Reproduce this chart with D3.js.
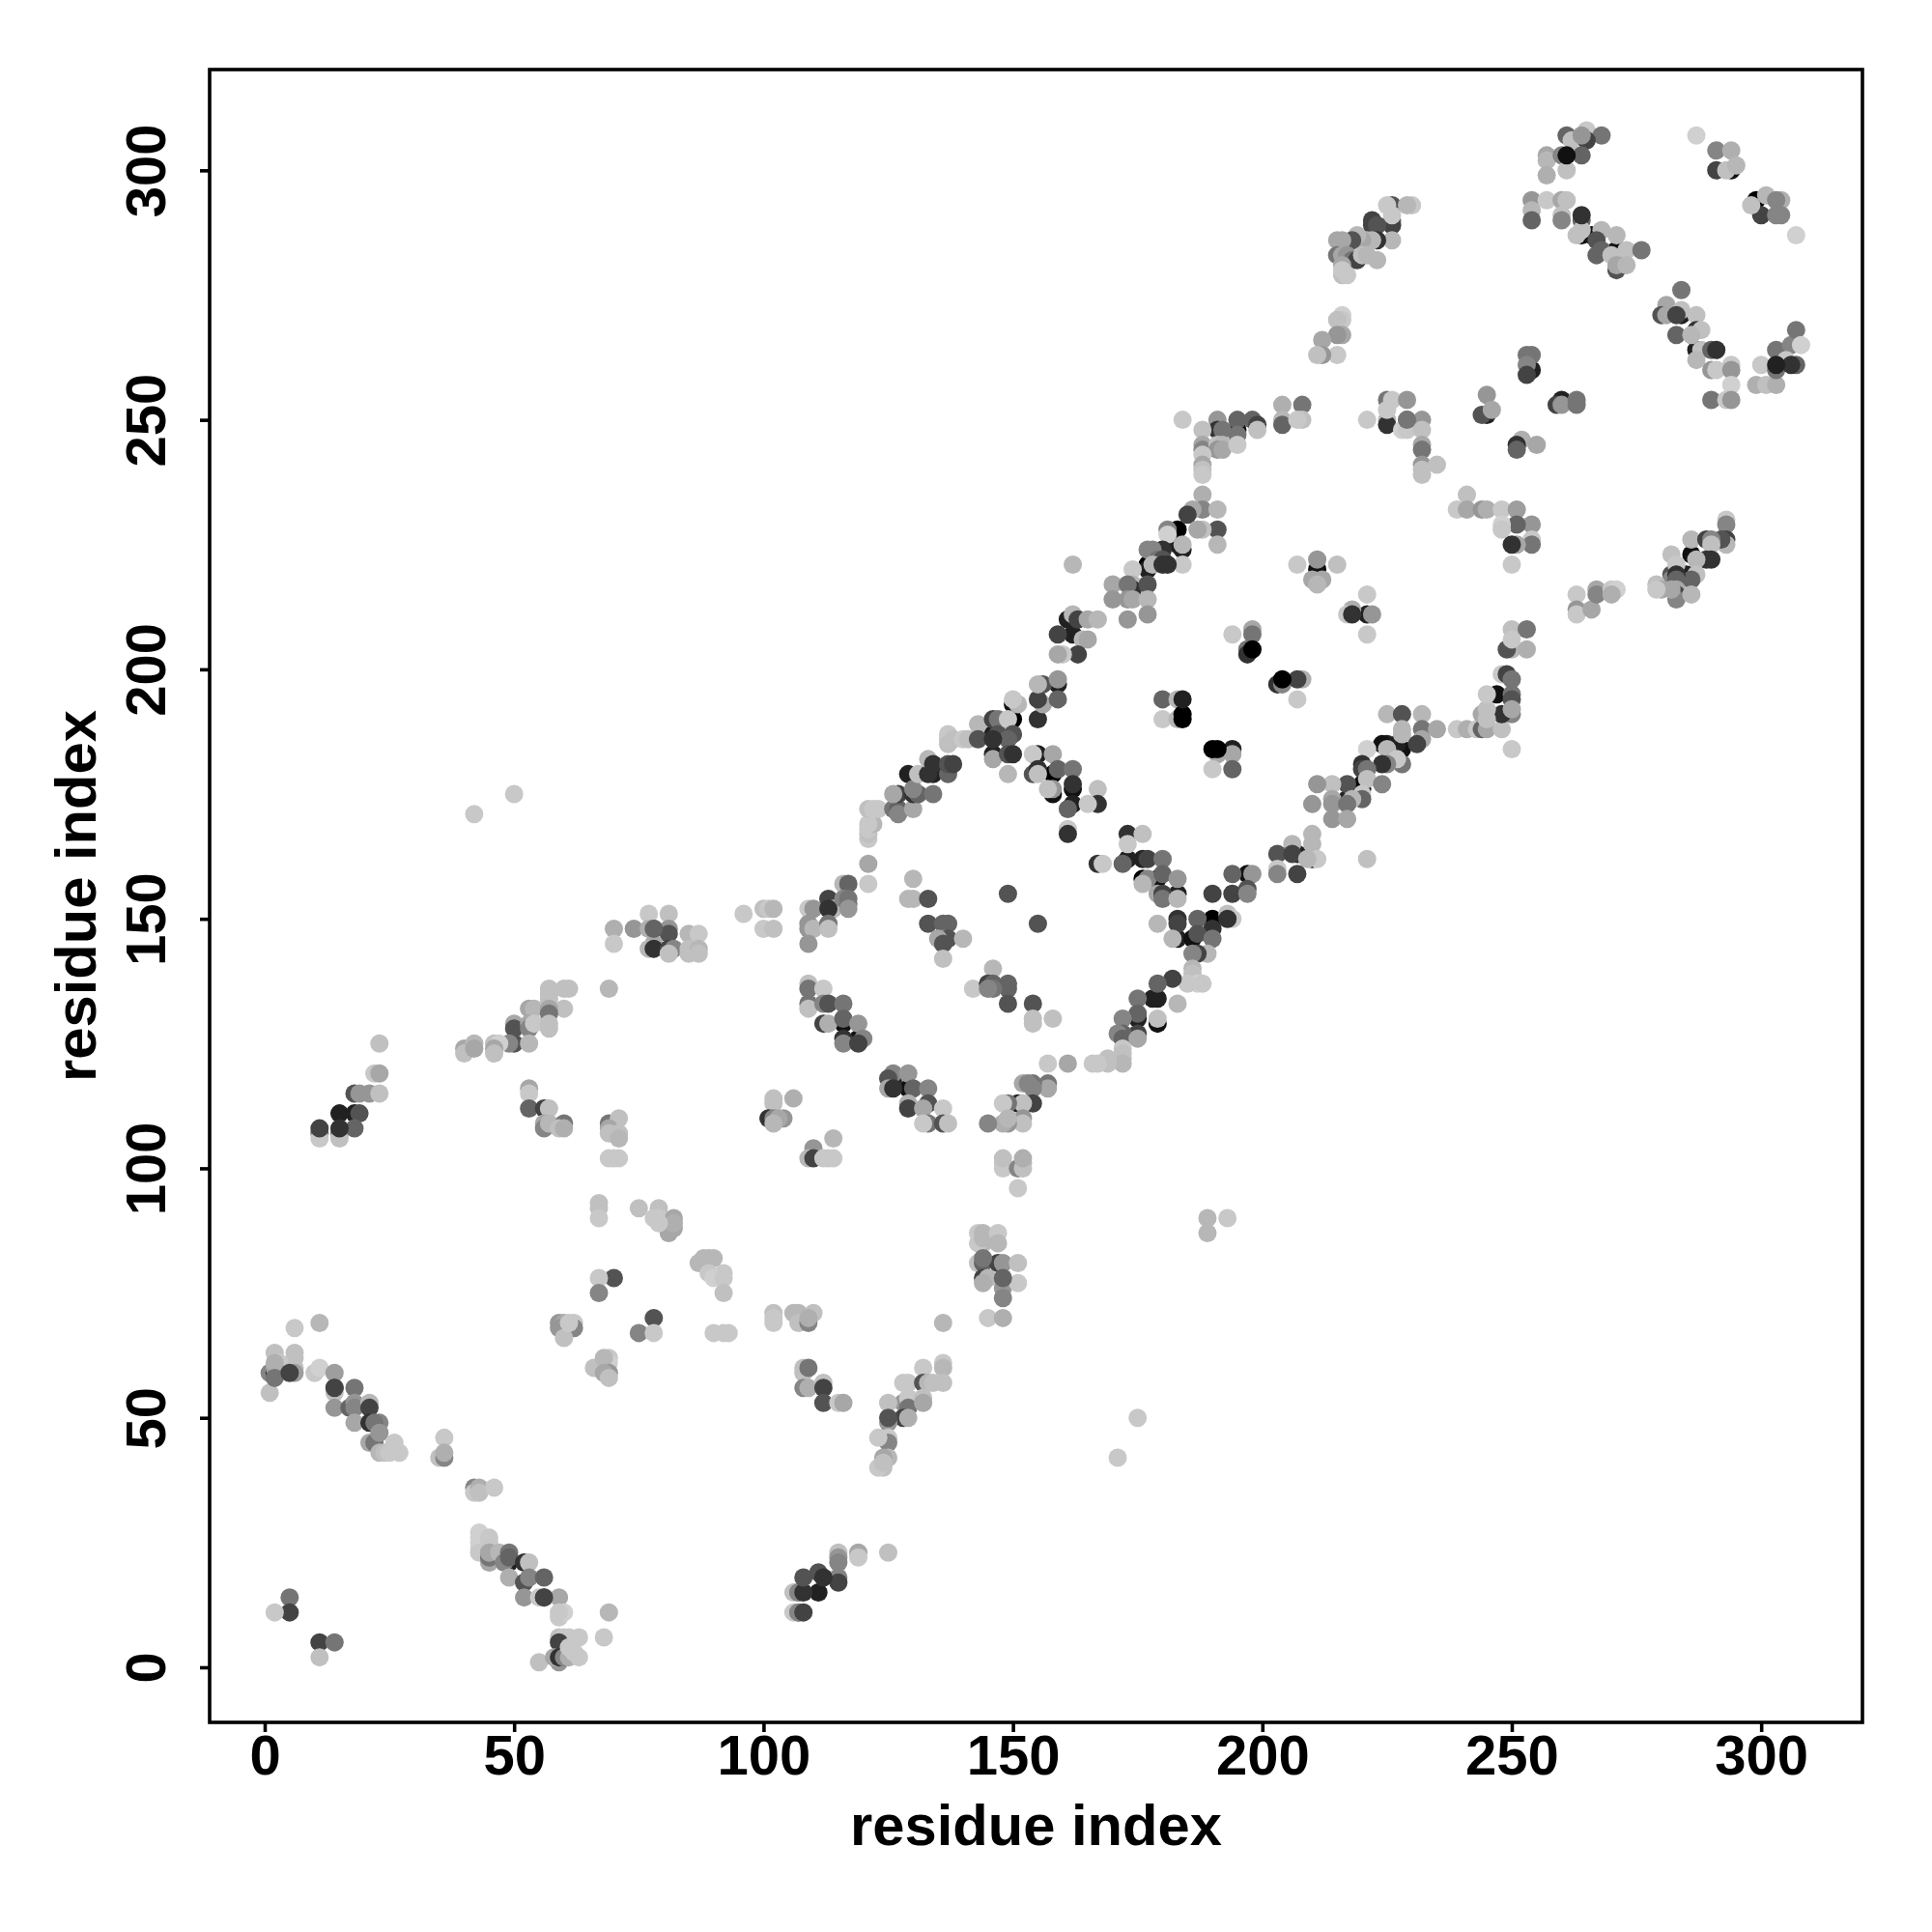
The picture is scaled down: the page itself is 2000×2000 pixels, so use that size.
<!DOCTYPE html>
<html><head><meta charset="utf-8">
<script src="https://cdnjs.cloudflare.com/ajax/libs/d3/7.8.5/d3.min.js"></script>
<style>html,body{margin:0;background:#fff}svg{display:block}text{font-family:"Liberation Sans",Arial,sans-serif;font-weight:700;fill:#000}</style>
</head><body><div id="c"></div>
<script>
const xTicks=[0,50,100,150,200,250,300];
const yTicks=[0,50,100,150,200,250,300];
const axisTitle="residue index";
// each contact: [residue i, residue j, grey shade 0 (black) .. 12.5 (light)]
const bottomLeft=[[6,68,12],[11,69,11],[2,63,11.5],[6,63,11.5],[6,62,11.5],[3,61,12],[6,60,11.5],[6,59,9.5],[1,55,11.5],[1,59,8],[2,59,3],[2,60,9.5],[2,61,10.5],[2,58,7],[5,59,4],[10,59,12],[11,60,12.5],[14,59,9.5],[14,56,4],[14,55,11.5],[18,56,7],[14,52,9],[17,52,6],[18,53,9],[18,52,8],[21,53,11],[21,52,4],[18,49,10],[21,49,3],[23,49,8],[22,49,7],[21,45,10],[22,45,7],[23,47,9],[23,43,11],[24,43,11.5],[26,45,12],[27,43,12],[25,43,12],[26,44,12],[36,46,12],[35,42,11.5],[36,42,8],[36,43,10.5],[42,36,8],[42,35,12],[43,36,10.5],[43,35,11.5],[46,36,12],[5,14,7],[5,11,4],[2,11,12],[11,5,4],[14,5,7],[11,2,11.5]];
const lowerBand=[[43,27,12.5],[43,26,12.5],[43,25,12.5],[43,24,12.5],[43,23,12],[45,26,12],[45,25,12],[45,21,10],[45,22,7],[45,23,10],[47,23,11],[48,21,8],[49,23,7],[49,22,6],[49,21,2],[49,18,10.5],[52,21,3],[53,21,11.5],[52,17,5],[53,18,8],[56,18,6],[52,14,9],[55,14,12],[56,14,4],[59,14,10],[59,10,12],[60,11,12.5],[59,11,12],[69,11,11],[68,6,12],[59,6,11.5],[60,6,12],[61,6,12],[63,6,12],[59,5,4],[55,1,11.5],[59,1,9],[58,2,10],[59,2,3],[60,2,8],[61,2,10.5],[63,2,12],[62,3,12],[61,4,12]];
const centreLeft=[[70,78,5],[67,78,12],[67,75,8],[78,70,5],[75,67,8],[78,67,12],[59,69,9],[60,69,10],[62,69,12],[62,68,8],[59,68,9],[60,66,11.5],[61,69,12],[66,60,11.5],[69,62,12],[69,61,12.5],[68,62,11],[69,59,9],[68,59,10],[69,58,11.5],[90,67,12],[93,67,12],[92,67,12],[67,93,11.5],[67,92,11.5],[67,90,12],[75,92,11.5],[79,92,11.5],[78,90,12],[79,90,12],[82,90,10],[82,88,10],[81,87,10],[82,89,10.5],[79,89,12],[87,81,11],[90,82,11],[88,82,11],[89,82,11],[89,79,12],[92,79,12],[90,78,12.5],[92,78,12],[92,75,11.5]];
const upperLeft=[[50,175,12],[42,171,12],[70,148,10.5],[70,145,12],[74,148,9],[77,151,12],[81,151,11.5],[78,148,6],[81,148,9],[81,147,5],[77,148,10.5],[78,145,10],[77,144,11],[78,144,3],[81,144,4],[82,144,8],[81,143,11.5],[85,147,11],[87,147,12],[85,144,11.5],[85,143,11.5],[87,144,11],[87,143,11.5],[69,136,11],[57,136,11.5],[60,136,11.5],[61,136,11.5],[57,135,11.5],[57,134,11.5],[53,132,10],[54,132,11],[60,132,11.5],[57,133,11.5],[57,132,10],[57,131,7],[50,129,10],[50,128,5],[53,129,10],[53,128,8],[54,129,12],[57,129,11.5],[57,128,11.5],[50,125,5],[49,125,8],[53,125,11],[46,125,11.5],[47,125,12.5],[46,124,10],[46,123,11.5],[40,124,10],[40,123,11.5],[42,125,11],[42,124,10],[23,125,11.5],[22,119,12],[23,119,10],[18,115,5],[19,115,9],[21,115,9],[23,115,11.5],[15,111,2],[18,111,2],[19,111,5],[11,107,7],[11,106,12],[15,107,7],[15,106,11.5],[18,108,6],[53,116,10],[53,115,12],[53,112,6],[56,112,4],[57,112,11.5],[56,109,10],[56,108,8],[57,109,11],[60,109,7],[59,108,11.5],[60,108,10.5],[69,109,7],[71,110,11.5],[69,108,10],[69,107,11.5],[71,107,11.5],[71,106,11],[69,102,12],[71,102,12],[70,102,12]];
const lowerMiddle=[[102,71,11.5],[102,69,12],[102,70,12],[106,71,11],[107,71,11],[110,71,11.5],[107,69,11.5],[109,69,8],[109,70,10.5],[136,69,11],[108,60,11.5],[108,59,11.5],[108,56,8],[109,56,10.5],[112,57,11.5],[112,56,4],[112,53,5],[115,53,12],[116,53,10],[136,61,12],[136,60,11],[132,60,12],[128,57,12],[129,57,12],[132,57,5],[133,57,11],[134,57,11.5],[136,57,11.5],[128,53,9],[129,54,12],[129,52,7],[132,54,11.5],[132,53,10],[125,53,11.5],[128,50,4],[129,50,10.5],[125,49,9],[125,46,12],[125,45,8],[123,46,12],[125,42,11],[124,42,10],[124,40,11.5],[123,40,12],[124,41,11.5],[115,23,11.5],[115,22,9],[115,21,8],[115,18,8],[115,17,4],[119,23,10],[119,22,12],[125,23,11.5],[111,19,5],[112,18,3],[111,15,2],[106,15,11.5],[107,15,8],[106,11,12],[107,11,8],[175,50,12],[171,42,12],[189,90,11],[189,87,11],[193,90,12],[143,87,12],[144,87,11],[144,85,11],[143,85,12],[144,86,11],[147,87,12],[147,85,11],[143,81,11.5],[144,81,6],[147,81,4],[148,81,9],[151,81,11.5],[144,78,4],[145,78,11],[144,77,10.5],[148,76,9],[151,77,12],[148,74,8],[145,70,12],[148,70,10.5],[148,100,12],[148,101,12],[151,96,12],[152,101,11],[151,100,8],[152,100,11.5]];
const triangleLeft=[[102,114,11.5],[102,113,11.5],[106,114,10.5],[101,110,3],[102,110,8],[104,110,9],[103,110,10],[102,109,11],[114,106,11],[110,104,9],[110,103,9],[109,102,11],[110,102,4],[112,102,12],[114,102,12],[113,102,12],[148,102,11.5],[152,102,10.5],[96,151,12],[100,152,11.5],[101,152,12],[102,152,11],[100,148,12],[102,148,11.5],[109,152,12],[110,152,9],[109,149,9],[109,148,9],[110,148,11],[109,145,9],[113,154,4],[114,152,11],[113,152,3],[113,149,7],[113,148,11.5],[116,157,11],[117,157,6],[116,154,8],[117,154,7],[117,153,7],[117,152,9],[121,157,12],[121,161,10],[121,166,12],[121,167,11.5],[121,168,12],[122,169,11],[121,169,12],[121,172,11.5],[122,172,12],[123,172,12],[126,172,7],[127,172,6],[127,171,8],[127,175,4],[126,175,10],[130,172,10],[130,175,3],[131,175,6],[134,175,7],[130,176,8],[129,179,2],[131,179,11.5],[134,179,2],[133,179,3],[137,179,6],[133,182,11],[134,181,3],[137,181,5],[138,181,4],[137,187,12],[137,186,12],[137,185,11.5],[138,186,11.5],[140,186,12],[141,186,11.5],[143,189,11],[143,186,5],[146,190,4],[147,190,7],[147,187,5],[146,187,2],[149,190,12],[150,190,0],[150,187,5],[151,193,11],[150,194,12],[150,193,1],[149,186,6],[146,186,3],[146,183,2],[146,182,10],[149,183,5],[150,183,3],[149,179,11],[155,190,3],[156,193,10],[155,194,4],[156,197,5],[155,197,11],[159,194,6],[159,197,2],[159,198,9]];
const triangleRight=[[154,183,12],[155,183,2],[158,183,10],[154,179,5],[155,180,3],[155,179,11.5],[158,179,0],[159,180,6],[162,180,7],[162,177,3],[162,176,1],[158,176,9],[158,175,1],[157,176,11.5],[167,176,11.5],[167,173,3],[165,173,12],[162,173,2],[161,172,6],[161,168,12],[161,167,3],[167,161,3],[168,161,12],[173,167,3],[176,167,11.5],[173,165,12],[172,161,6],[173,162,2],[176,162,2],[177,162,4],[180,162,7],[176,158,0],[177,158,8],[176,157,11],[179,158,1],[180,159,6],[183,158,9],[179,155,10],[180,155,4],[183,155,2],[180,154,7],[183,154,11],[179,149,11],[183,150,3],[183,149,4],[183,146,2],[182,146,11],[190,155,4],[187,150,6],[190,150,0],[190,148,3],[187,147,5],[186,146,1],[190,146,7],[189,143,11],[187,143,4],[186,143,8],[186,140,11],[186,139,11.5],[187,137,12.5],[185,137,12],[188,137,12],[182,138,4],[179,137,6],[183,133,11],[179,134,2],[178,134,2],[175,134,7],[179,130,11.5],[179,129,1],[175,131,6],[175,130,2],[172,130,8],[175,127,4],[172,127,6],[171,127,8],[172,126,6],[175,126,10],[172,124,12],[172,123,11.5],[172,122,11.5],[172,121,11],[169,122,11.5],[169,121,11.5],[166,121,12],[167,121,12],[161,121,10],[157,121,12],[157,117,7],[157,116,10],[154,117,7],[152,117,10],[153,117,8],[154,116,8],[154,113,4],[152,113,11.5],[151,113,2],[149,113,7],[148,113,12],[152,110,9],[152,109,11.5],[149,109,9],[148,109,10.5],[149,110,11],[145,109,8]];
const triangleInner=[[130,158,11],[129,154,11],[130,154,11],[133,154,5],[133,149,5],[136,149,6],[137,149,6],[136,146,8],[137,146,5],[135,146,10],[136,145,5],[136,142,11.5],[140,146,11],[149,155,5],[155,149,5],[146,140,11],[142,136,12],[145,137,4],[146,137,6],[149,137,6],[149,136,6],[146,136,7],[145,136,8],[149,133,5],[154,133,5],[154,130,11.5],[154,129,11.5],[158,130,11.5],[109,137,11.5],[109,136,7],[112,136,12],[109,133,7],[109,132,11.5],[112,133,8],[113,133,5],[116,133,7],[112,129,4],[113,129,10.5],[116,130,6],[116,129,1],[119,129,9],[116,126,3],[116,125,8],[119,126,1],[120,126,8],[119,125,4],[126,119,8],[125,118,5],[126,118,2],[129,119,9],[125,116,10],[126,116,3],[129,116,1],[130,116,6],[133,116,8],[129,113,10.5],[129,112,4],[133,113,5],[132,112,10],[133,109,7],[132,109,12],[136,112,12],[136,109,5],[137,109,11.5]];
const centreRight=[[180,194,6],[183,194,11],[180,190,12],[183,190,11],[191,183,10],[194,183,10],[190,180,12],[194,180,6],[194,184,2],[194,207,12],[198,208,10],[198,207,7],[197,204,7],[197,203,3],[203,197,3],[204,197,8],[208,198,10.5],[207,198,4],[207,194,12],[218,212,10.5],[217,211,12],[218,211,3],[221,211,2],[222,211,9],[221,207,12],[221,215,12],[207,221,12],[211,222,9],[211,220,1],[215,221,11.5],[210,218,10],[212,218,10],[211,218,2],[211,217,11]];
const diagonalMiddle=[[225,191,11],[228,191,5],[232,191,11],[228,188,11],[232,188,7],[235,188,10],[228,187,11],[232,186,10],[231,185,4],[239,188,12],[241,188,10.5],[243,188,12],[244,188,6],[245,188,10],[248,188,11.5],[250,184,12],[250,191,8],[248,191,3],[244,191,10],[245,192,11.5],[245,190,11.5],[245,195,12],[247,195,1],[250,195,7],[248,199,12],[249,199,4],[250,198,7],[250,194,5],[250,192,10],[250,208,11.5],[253,208,7],[250,204,11],[249,204,5],[253,204,10.5],[250,206,12],[221,184,12.5],[225,185,2],[224,185,1],[225,184,11],[228,184,1],[227,185,2],[228,181,7],[227,182,12],[225,181,8],[224,181,3],[220,181,3],[220,180,4],[221,180,7],[220,177,1],[221,178,11.5],[220,176,0],[224,177,8],[220,175,12],[220,174,6],[217,177,5],[214,177,11.5],[211,177,9],[214,174,10],[214,173,9],[210,173,9],[217,174,2],[218,174,11],[217,173,7],[214,170,9],[217,170,10],[210,167,11],[210,165,11],[206,165,11],[203,163,5],[207,163,2],[206,163,4],[210,162,2],[211,162,12],[209,162,11],[203,160,12],[203,159,8],[207,159,4],[221,162,11.5],[194,159,6],[197,159,1],[198,159,9],[194,155,4],[197,156,5],[197,155,8],[193,151,11.5],[194,150,12],[193,150,3]];
const upperBand=[[226,293,5],[225,293,12],[230,293,12],[229,293,11],[226,290,7],[226,289,4],[226,291,12],[222,290,4],[222,289,4],[223,289,5],[226,286,11],[223,286,3],[222,286,11],[221,286,11],[220,286,10],[219,287,11],[218,286,5],[215,286,10],[216,286,10],[215,283,7],[216,283,10],[217,283,9],[218,282,7],[219,282,4],[220,283,11.5],[221,283,11],[223,282,11],[216,281,10],[216,279,11.5],[217,279,12],[216,280,12],[216,271,12.5],[216,270,12],[215,270,11.5],[216,267,10],[215,267,9],[212,266,10],[215,263,12],[212,263,9],[211,263,11.5],[208,253,7],[204,253,10.5],[204,250,11],[204,249,6],[208,250,11.5],[207,250,12],[184,250,12],[191,250,9],[195,250,6],[198,250,6],[199,249,4],[199,248,11.5],[191,248,3],[192,248,7],[195,248,1],[195,247,7],[188,248,11.5],[188,245,10],[188,244,8],[191,245,11.5],[192,245,11],[191,244,9],[192,244,10],[195,245,12],[188,243,12],[188,241,10],[188,240,11.5],[188,239,12],[188,235,10.5],[188,232,8],[191,232,11],[186,232,10],[185,231,4],[191,228,5],[191,225,11],[188,228,11.5],[187,228,10],[183,228,0],[181,228,8],[181,227,12.5],[183,225,2],[184,225,11],[184,224,2],[180,224,3],[177,224,8],[178,224,8],[179,222,7],[180,222,5],[177,221,0],[177,220,2],[178,221,11],[180,221,3],[184,221,12],[181,221,3],[174,220,12],[162,221,11],[170,217,10],[174,217,11],[174,216,3],[173,217,7],[177,217,5],[170,214,9],[173,214,9],[174,214,10],[177,214,11],[177,211,9],[173,210,9],[162,211,11],[163,210,4],[161,210,2],[165,210,10],[167,210,11],[159,207,4],[162,207,2],[164,206,11],[165,206,10],[163,203,4],[160,203,12],[159,203,10]];
const upperInner=[[221,250,12],[225,254,7],[226,254,12],[229,254,9],[225,250,11],[225,249,3],[229,250,7],[232,250,9],[225,252,12],[228,248,12.5],[229,248,12],[232,248,11.5],[232,245,10],[232,244,7],[232,241,9],[232,239,11.5],[232,240,11.5],[235,241,11.5],[241,235,11.5],[239,232,12],[241,232,10],[244,232,9],[245,232,10.5],[248,232,12],[251,232,9.5],[254,229,9],[251,229,6],[248,229,12.5],[248,228,12],[254,226,12],[254,225,7],[251,225,10],[250,225,3],[250,221,12],[245,255,9],[244,251,5],[245,251,2],[246,252,10],[252,246,10.5],[251,245,3],[251,244,6],[255,245,10],[253,263,7],[254,263,7],[254,260,2],[253,261,8],[253,259,4],[260,254,2],[259,253,4],[260,253,9],[263,254,7],[263,253,7]];
const topRight=[[287,307,12.5],[291,304,8],[294,304,10.5],[291,300,4],[293,300,11.5],[294,300,1],[295,301,11],[301,295,11],[299,294,0],[304,294,10.5],[303,294,8],[300,291,4],[304,291,8],[303,291,8],[298,293,11.5],[307,287,12.5],[265,308,12],[268,307,7],[261,307,6],[262,306,11.5],[265,306,4],[264,307,9],[257,303,10],[257,302,11],[264,303,6],[260,303,8],[257,299,10.5],[261,300,11.5],[254,294,9],[254,292,11],[257,294,12],[260,294,10],[261,294,11.5],[254,290,6],[264,290,6],[260,291,11.5],[260,290,8],[264,288,11.5],[264,287,0],[263,287,11.5],[268,288,11],[266,287,1],[267,286,5],[267,283,6],[268,284,6],[271,287,11],[270,283,11.5],[271,284,1],[273,284,11.5],[276,284,7],[271,280,5],[271,281,10],[273,281,11],[284,276,7],[281,273,10],[284,272,11.5],[280,271,5],[281,271,10],[284,271,2],[283,271,4],[287,271,11.5],[283,267,6],[287,268,3],[288,268,11.5],[286,267,11],[287,264,2],[288,264,11.5],[287,262,11],[290,264,6],[290,260,9],[291,260,12],[294,261,12],[294,260,9],[294,257,12.5],[290,254,7],[293,254,12],[294,254,9],[299,257,10.5],[301,257,11.5],[303,257,10.5],[300,261,12],[303,264,7],[303,260,7],[306,265,8],[307,268,7],[308,265,12.5],[307,261,6],[305,262,12],[306,261,3]];
const rightStrand=[[263,215,12],[263,212,9],[263,211,12],[266,212,10],[267,216,10],[267,215,8],[270,216,12],[271,216,12.5],[270,215,10.5],[293,230,12],[293,229,8],[293,226,4],[293,225,11],[292,226,5],[286,226,11],[289,226,4],[290,226,8],[290,225,11.5],[286,223,1],[290,222,3],[289,222,3],[287,222,11],[282,223,11.5],[282,219,5],[282,218,8],[287,219,11.5],[286,218,6],[285,219,2],[283,221,12],[283,219,3],[283,218,6],[283,216,10],[283,215,4],[283,214,8],[286,215,11],[282,216,10],[279,217,11.5],[280,216,10],[279,216,12]];
// contacts seen painted over their lighter neighbours
const paintedOnTop=[[14,56,4],[56,14,4],[109,60,7],[107,15,8],[108,15,3],[108,18,5],[107,11,8],[108,11,4],[11,108,4],[15,108,3],[125,50,5],[78,148,6],[144,82,7],[148,78,6],[190,184,0],[191,184,0],[184,191,0],[184,190,0],[204,198,0],[198,204,0],[184,194,2],[229,250,7],[303,261,2],[264,291,3],[261,303,1],[291,264,3]];

const W=2000,H=2000,plotLeft=217,plotRight=1928,plotTop=72,plotBottom=1783;
const svg=d3.select("#c").append("svg").attr("width",W).attr("height",H).attr("viewBox",[0,0,W,H]);
const xScale=d3.scaleLinear().domain([-11.04,320.3]).range([plotLeft,plotRight]);
const yScale=d3.scaleLinear().domain([-11.04,320.2]).range([plotBottom,plotTop]);
const grey=d3.scaleLinear().domain([0,12]).range(["#000","#c8c8c8"]);
const base=[...bottomLeft,...lowerBand,...centreLeft,...upperLeft,...lowerMiddle,...triangleLeft,...triangleRight,...triangleInner,...centreRight,...diagonalMiddle,...upperBand,...upperInner,...topRight,...rightStrand];
// paint order: near-black contacts lowest (they show as crescents), the rest in reading order
const ordered=d3.sort(base,d=>d[2]<=2.5?0:1).concat(paintedOnTop);
svg.append("g").selectAll("circle").data(ordered).join("circle")
  .attr("cx",d=>xScale(d[0])).attr("cy",d=>yScale(d[1])).attr("r",9.5).attr("fill",d=>grey(d[2]));
svg.append("rect").attr("x",plotLeft).attr("y",plotTop).attr("width",plotRight-plotLeft).attr("height",plotBottom-plotTop).attr("fill","none").attr("stroke","#000").attr("stroke-width",3.6);
const gx=svg.append("g").attr("transform",`translate(0,${plotBottom})`).call(d3.axisBottom(xScale).tickValues(xTicks).tickSize(10));
const gy=svg.append("g").attr("transform",`translate(${plotLeft},0)`).call(d3.axisLeft(yScale).tickValues(yTicks).tickSize(10));
[gx,gy].forEach(g=>{g.select(".domain").remove();g.selectAll("line").attr("stroke","#000").attr("stroke-width",3.6);});
gx.selectAll("text").attr("font-size",58).attr("fill","#000").attr("dy",null).attr("y",1837-plotBottom);
gy.selectAll("text").attr("font-size",58).attr("fill","#000").attr("dy",null).attr("text-anchor","middle").attr("x",0).attr("y",0)
  .attr("transform",d=>`translate(${171-plotLeft},0) rotate(-90)`);
svg.append("text").attr("x",(plotLeft+plotRight)/2).attr("y",1910).attr("text-anchor","middle").attr("font-size",59.7).text(axisTitle);
svg.append("text").attr("transform",`translate(99,${(plotTop+plotBottom)/2}) rotate(-90)`).attr("text-anchor","middle").attr("font-size",59.7).text(axisTitle);
</script></body></html>
